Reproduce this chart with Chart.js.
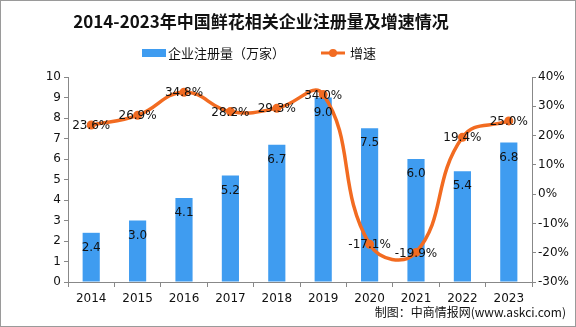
<!DOCTYPE html>
<html>
<head>
<meta charset="utf-8">
<title>鲜花相关企业注册量</title>
<script src="https://cdn.jsdelivr.net/npm/chart.js@4.4.0/dist/chart.umd.min.js"></script>
<style>
  html, body { margin: 0; padding: 0; background: #fff; }
  #wrap { width: 576px; height: 327px; position: relative; }
</style>
</head>
<body>
<div id="wrap"><canvas id="myChart" width="576" height="327"></canvas></div>
<script>
const years = ['2014', '2015', '2016', '2017', '2018', '2019', '2020', '2021', '2022', '2023'];
const registrations = [2.4, 3.0, 4.1, 5.2, 6.7, 9.0, 7.5, 6.0, 5.4, 6.8];
const growth = [23.6, 26.9, 34.8, 28.2, 29.3, 34.0, -17.1, -19.9, 19.4, 25.0];

const BLUE = '#3f9cf0';
const ORANGE = '#f26b21';
const CJK = '"Noto Sans CJK SC", "DejaVu Sans", sans-serif';

// title, legend, value labels and footer
const decorations = {
    id: 'decorations',
    afterDatasetsDraw(chart) {
        const c = chart.ctx;
        c.save();
        c.fillStyle = '#111';
        c.textAlign = 'center';
        c.textBaseline = 'middle';
        c.font = '12px "DejaVu Sans", sans-serif';
        chart.getDatasetMeta(0).data.forEach((bar, i) => {
            c.fillText(registrations[i].toFixed(1), bar.x, bar.y + 15);
        });
        chart.getDatasetMeta(1).data.forEach((pt, i) => {
            c.fillText(growth[i].toFixed(1) + '%', pt.x, pt.y + 1);
        });
        c.restore();
    },
    afterDraw(chart) {
        const c = chart.ctx;
        c.save();
        c.fillStyle = '#111';
        c.textBaseline = 'middle';
        c.textAlign = 'center';
        c.font = 'bold 17px ' + CJK;
        c.fillText('2014-2023年中国鲜花相关企业注册量及增速情况', 261, 22);

        c.textAlign = 'left';
        c.font = '13px ' + CJK;
        c.fillStyle = BLUE;
        c.fillRect(142, 49, 24, 8);
        c.fillStyle = '#111';
        c.fillText('企业注册量（万家）', 168, 53);

        c.strokeStyle = ORANGE;
        c.lineWidth = 3;
        c.beginPath();
        c.moveTo(321, 53);
        c.lineTo(345, 53);
        c.stroke();
        c.fillStyle = ORANGE;
        c.beginPath();
        c.arc(333, 53, 4, 0, Math.PI * 2);
        c.fill();
        c.fillStyle = '#111';
        c.fillText('增速', 350, 53);

        c.textAlign = 'right';
        c.font = '12px ' + CJK;
        c.fillText('制图：中商情报网(www.askci.com)', 566, 312);

        c.strokeStyle = '#9a9a9a';
        c.lineWidth = 1;
        c.strokeRect(0.5, 0.5, 575, 326);
        c.restore();
    }
};

const ctx = document.getElementById('myChart').getContext('2d');
const myChart = new Chart(ctx, {
    type: 'bar',
    data: {
        labels: years,
        datasets: [
            {
                type: 'bar',
                label: '企业注册量（万家）',
                data: registrations,
                backgroundColor: BLUE,
                yAxisID: 'y',
                categoryPercentage: 1,
                barPercentage: 0.37,
                order: 2
            },
            {
                type: 'line',
                label: '增速',
                data: growth,
                borderColor: ORANGE,
                backgroundColor: ORANGE,
                borderWidth: 3.5,
                tension: 0.45,
                pointRadius: 4.5,
                pointBackgroundColor: ORANGE,
                pointBorderWidth: 0,
                yAxisID: 'y1',
                order: 1
            }
        ]
    },
    options: {
        responsive: false,
        animation: false,
        layout: { padding: { top: 77, left: 0, right: 0, bottom: 0 } },
        plugins: {
            legend: { display: false },
            title: { display: false },
            tooltip: { enabled: false }
        },
        scales: {
            x: {
                grid: { drawOnChartArea: false, drawTicks: true, tickLength: 5, color: '#888' },
                border: { color: '#888' },
                ticks: { color: '#111', font: { size: 12, family: 'DejaVu Sans' }, padding: 5 },
                afterFit(s) { s.height = 45; }
            },
            y: {
                position: 'left',
                min: 0,
                max: 10,
                ticks: { stepSize: 1, color: '#111', font: { size: 12, family: 'DejaVu Sans' }, padding: 3 },
                grid: { drawOnChartArea: false, drawTicks: true, tickLength: 4, color: '#888' },
                border: { color: '#888' },
                afterFit(s) { s.width = 68; }
            },
            y1: {
                position: 'right',
                min: -30,
                max: 40,
                ticks: {
                    stepSize: 10, color: '#111', font: { size: 12, family: 'DejaVu Sans' }, padding: 2,
                    callback: v => v + '%'
                },
                grid: { drawOnChartArea: false, drawTicks: true, tickLength: 4, color: '#888' },
                border: { color: '#888' },
                afterFit(s) { s.width = 44; }
            }
        }
    },
    plugins: [decorations]
});
</script>
</body>
</html>
